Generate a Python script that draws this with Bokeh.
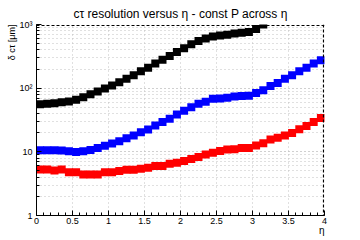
import numpy as np
from bokeh.plotting import figure
from bokeh.models import FixedTicker, Title, Span
from bokeh.embed import file_html
from bokeh.resources import INLINE

# data
eta_all = [round(0.05 + 0.1 * i, 2) for i in range(40)]
eta_black = eta_all[:32]
black = [56, 57, 58, 60, 62, 66, 72, 80, 89, 99, 110, 124, 140, 160, 185, 210,
         245, 280, 320, 370, 425, 490, 550, 600, 650, 670, 690, 720, 740, 760, 850, 1000]
blue = [10.6, 10.6, 10.6, 10.5, 10.2, 9.9, 10.2, 10.7, 11.5, 12.5, 13.5, 14.7, 16.3, 18.0,
        20.3, 22.5, 26.0, 29.5, 33.0, 38.5, 44.0, 50.0, 57.0, 61.0, 68.0, 69.0, 71.0, 74.0,
        75.0, 76.0, 84.0, 93.0, 108.0, 121.0, 140.0, 160.0, 185.0, 210.0, 245.0, 275.0]
red = [5.3, 5.3, 5.1, 5.3, 4.8, 4.8, 4.4, 4.4, 4.4, 4.8, 4.8, 5.0, 5.25, 5.25, 5.4, 5.6,
       6.0, 6.0, 6.5, 6.75, 7.15, 7.7, 8.3, 9.1, 9.7, 10.3, 10.9, 11.0, 11.5, 11.5, 12.6,
       13.7, 15.6, 16.7, 18.1, 19.8, 22.6, 25.5, 29.5, 34.0]
x_ticks = [0, 0.5, 1, 1.5, 2, 2.5, 3, 3.5, 4]
y_ticks = [1, 10, 100, 1000]
y_tick_labels = ["1", "10", "10²", "10³"]
title_text = "cτ resolution versus η - const P across η"
y_label = "δ cτ [μm]"
x_label = "η"

FONT = "Liberation Sans"
W, H = 360, 240
BL, BR, BT, BB = 36, 36, 24, 25
frame_w = W - BL - BR
frame_h = H - BT - BB

p = figure(width=W, height=H, x_range=(0, 4), y_range=(1, 1000),
           y_axis_type="log", output_backend="svg", toolbar_location=None,
           min_border_left=BL, min_border_right=BR, min_border_top=BT,
           min_border_bottom=BB, background_fill_color="white",
           border_fill_color="white")

p.outline_line_color = None

# title
p.title.text = title_text
p.title.align = "center"
p.title.text_font = FONT
p.title.text_font_size = "12px"
p.title.text_font_style = "normal"
p.title.text_color = "black"
p.title.standoff = 8

x_minor = [round(0.1 * i, 2) for i in range(41)]
p.xaxis.ticker = FixedTicker(ticks=x_ticks, minor_ticks=x_minor)
y_minor = [m * 10 ** d for d in range(3) for m in range(1, 10)] + [1000]
p.yaxis.ticker = FixedTicker(ticks=y_ticks, minor_ticks=y_minor)
p.yaxis.major_label_overrides = {t: l for t, l in zip(y_ticks, y_tick_labels)}
p.xaxis.major_label_overrides = {0: "0", 1: "1", 2: "2", 3: "3", 4: "4"}

for ax in (p.xaxis, p.yaxis):
    ax.axis_line_color = "black"
    ax.axis_line_width = 1
    ax.major_tick_in = 5
    ax.major_tick_out = 0
    ax.minor_tick_in = 3
    ax.minor_tick_out = 0
    ax.major_tick_line_color = "black"
    ax.minor_tick_line_color = "black"
    ax.major_label_text_font = FONT
    ax.major_label_text_font_size = "9px"
    ax.major_label_text_color = "black"
p.xaxis.major_label_standoff = 2
p.yaxis.major_label_standoff = 4

# axis titles
p.add_layout(Title(text=y_label, align="right", text_font=FONT, text_font_size="9px",
                   text_font_style="normal", text_color="black", standoff=0), "left")
p.add_layout(Title(text=x_label, align="right", text_font=FONT, text_font_size="10px",
                   text_font_style="normal", text_color="black", standoff=-8), "below")

p.xgrid.grid_line_color = "#c0c0c0"
p.xgrid.grid_line_dash = "1 3"
p.ygrid.grid_line_color = "#c0c0c0"
p.ygrid.grid_line_dash = "1 3"
p.ygrid.minor_grid_line_color = "#c0c0c0"
p.ygrid.minor_grid_line_dash = "1 3"

p.scatter(eta_black, black, marker="square", size=8, color="black", line_width=0)
p.scatter(eta_all, blue, marker="square", size=8, color="#0000ff", line_width=0)
p.scatter(eta_all, red, marker="square", size=8, color="#ff0000", line_width=0)

# dashed top / right frame edges, placed one pixel inside the frame
px_x = (4 - 0) / frame_w
px_logy = (np.log10(1000) - np.log10(1)) / frame_h
p.add_layout(Span(location=x_ticks[-1] - px_x, dimension="height", line_color="black",
                  line_dash="3 2", line_width=1.2))
p.add_layout(Span(location=10 ** (np.log10(y_ticks[-1]) - px_logy), dimension="width",
                  line_color="black", line_dash="3 2", line_width=1.2))

open("out.html", "w").write(file_html(p, INLINE))
